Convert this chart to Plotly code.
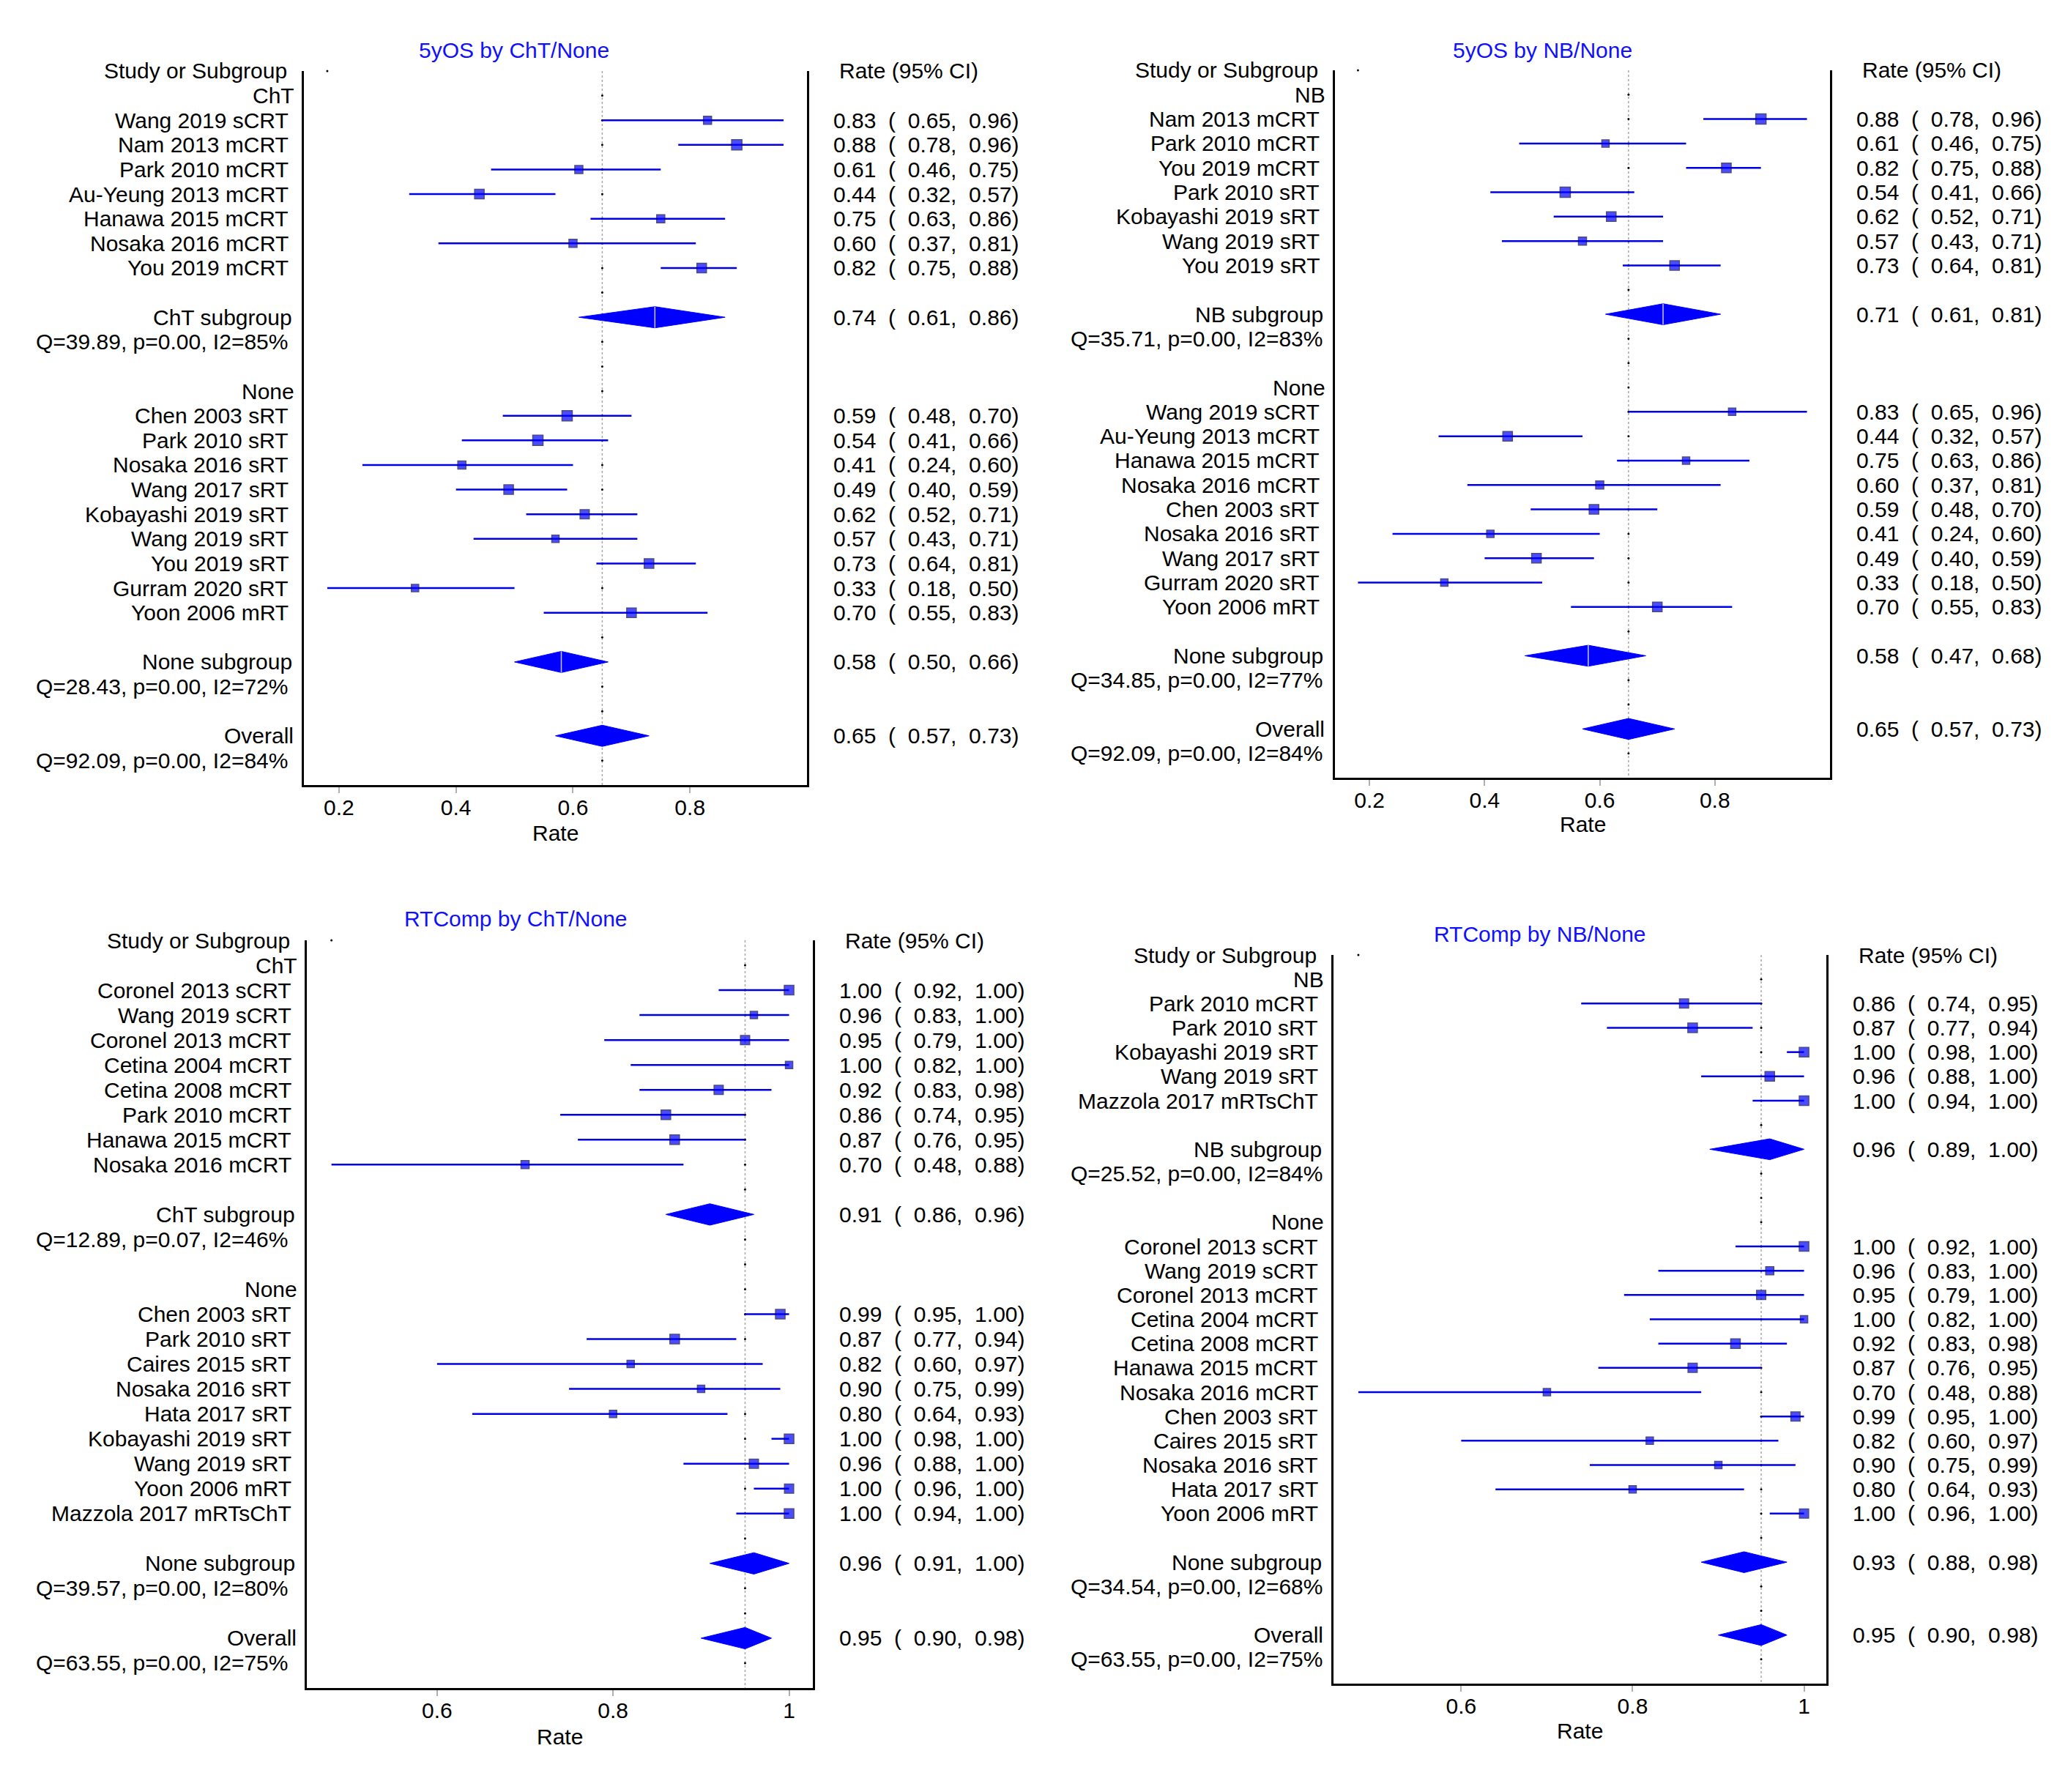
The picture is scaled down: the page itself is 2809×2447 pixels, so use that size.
import plotly.graph_objects as go

W, H = 2809, 2447          # page size
OFF = 8                    # the page body keeps an 8px margin round the figure
FW, FH = W - OFF, H - OFF  # figure size
FONT = "Liberation Sans, Arial, sans-serif"
FS = 30

# ---------------- values ----------------
# 5yOS by ChT/None
os_cht_study = ["Wang 2019 sCRT", "Nam 2013 mCRT", "Park 2010 mCRT", "Au-Yeung 2013 mCRT",
                "Hanawa 2015 mCRT", "Nosaka 2016 mCRT", "You 2019 mCRT",
                "Chen 2003 sRT", "Park 2010 sRT", "Nosaka 2016 sRT", "Wang 2017 sRT",
                "Kobayashi 2019 sRT", "Wang 2019 sRT", "You 2019 sRT", "Gurram 2020 sRT",
                "Yoon 2006 mRT"]
os_cht_group = ["ChT"] * 7 + ["None"] * 9
os_cht_rate = [0.83, 0.88, 0.61, 0.44, 0.75, 0.60, 0.82, 0.59, 0.54, 0.41, 0.49, 0.62, 0.57, 0.73, 0.33, 0.70]
os_cht_lo = [0.65, 0.78, 0.46, 0.32, 0.63, 0.37, 0.75, 0.48, 0.41, 0.24, 0.40, 0.52, 0.43, 0.64, 0.18, 0.55]
os_cht_hi = [0.96, 0.96, 0.75, 0.57, 0.86, 0.81, 0.88, 0.70, 0.66, 0.60, 0.59, 0.71, 0.71, 0.81, 0.50, 0.83]
os_cht_wt = [2, 5, 2, 4, 2, 2, 4, 5, 5, 2, 4, 3.5, 1, 4, 1, 4]
os_cht_sub = ["ChT", "None"]
os_cht_sub_rate = [0.74, 0.58]
os_cht_sub_lo = [0.61, 0.50]
os_cht_sub_hi = [0.86, 0.66]
os_cht_sub_q = ["Q=39.89, p=0.00, I2=85%", "Q=28.43, p=0.00, I2=72%"]
os_cht_all = [0.65, 0.57, 0.73]
os_cht_all_q = "Q=92.09, p=0.00, I2=84%"

# 5yOS by NB/None
os_nb_study = ["Nam 2013 mCRT", "Park 2010 mCRT", "You 2019 mCRT", "Park 2010 sRT",
               "Kobayashi 2019 sRT", "Wang 2019 sRT", "You 2019 sRT",
               "Wang 2019 sCRT", "Au-Yeung 2013 mCRT", "Hanawa 2015 mCRT", "Nosaka 2016 mCRT",
               "Chen 2003 sRT", "Nosaka 2016 sRT", "Wang 2017 sRT", "Gurram 2020 sRT",
               "Yoon 2006 mRT"]
os_nb_group = ["NB"] * 7 + ["None"] * 9
os_nb_rate = [0.88, 0.61, 0.82, 0.54, 0.62, 0.57, 0.73, 0.83, 0.44, 0.75, 0.60, 0.59, 0.41, 0.49, 0.33, 0.70]
os_nb_lo = [0.78, 0.46, 0.75, 0.41, 0.52, 0.43, 0.64, 0.65, 0.32, 0.63, 0.37, 0.48, 0.24, 0.40, 0.18, 0.55]
os_nb_hi = [0.96, 0.75, 0.88, 0.66, 0.71, 0.71, 0.81, 0.96, 0.57, 0.86, 0.81, 0.70, 0.60, 0.59, 0.50, 0.83]
os_nb_wt = [5, 1, 4, 5, 4, 2, 4, 1, 4, 1, 2, 4, 1, 4, 1, 4]
os_nb_sub = ["NB", "None"]
os_nb_sub_rate = [0.71, 0.58]
os_nb_sub_lo = [0.61, 0.47]
os_nb_sub_hi = [0.81, 0.68]
os_nb_sub_q = ["Q=35.71, p=0.00, I2=83%", "Q=34.85, p=0.00, I2=77%"]
os_nb_all = [0.65, 0.57, 0.73]
os_nb_all_q = "Q=92.09, p=0.00, I2=84%"

# RTComp by ChT/None
rt_cht_study = ["Coronel 2013 sCRT", "Wang 2019 sCRT", "Coronel 2013 mCRT", "Cetina 2004 mCRT",
                "Cetina 2008 mCRT", "Park 2010 mCRT", "Hanawa 2015 mCRT", "Nosaka 2016 mCRT",
                "Chen 2003 sRT", "Park 2010 sRT", "Caires 2015 sRT", "Nosaka 2016 sRT",
                "Hata 2017 sRT", "Kobayashi 2019 sRT", "Wang 2019 sRT", "Yoon 2006 mRT",
                "Mazzola 2017 mRTsChT"]
rt_cht_group = ["ChT"] * 8 + ["None"] * 9
rt_cht_rate = [1.00, 0.96, 0.95, 1.00, 0.92, 0.86, 0.87, 0.70, 0.99, 0.87, 0.82, 0.90, 0.80, 1.00, 0.96, 1.00, 1.00]
rt_cht_lo = [0.92, 0.83, 0.79, 0.82, 0.83, 0.74, 0.76, 0.48, 0.95, 0.77, 0.60, 0.75, 0.64, 0.98, 0.88, 0.96, 0.94]
rt_cht_hi = [1.00, 1.00, 1.00, 1.00, 0.98, 0.95, 0.95, 0.88, 1.00, 0.94, 0.97, 0.99, 0.93, 1.00, 1.00, 1.00, 1.00]
rt_cht_wt = [4, 1, 3.5, 1, 3.5, 4, 4, 2, 4, 4, 1, 1, 1, 4, 3.5, 3.5, 4]
rt_cht_sub = ["ChT", "None"]
rt_cht_sub_rate = [0.91, 0.96]
rt_cht_sub_lo = [0.86, 0.91]
rt_cht_sub_hi = [0.96, 1.00]
rt_cht_sub_q = ["Q=12.89, p=0.07, I2=46%", "Q=39.57, p=0.00, I2=80%"]
rt_cht_all = [0.95, 0.90, 0.98]
rt_cht_all_q = "Q=63.55, p=0.00, I2=75%"

# RTComp by NB/None
rt_nb_study = ["Park 2010 mCRT", "Park 2010 sRT", "Kobayashi 2019 sRT", "Wang 2019 sRT",
               "Mazzola 2017 mRTsChT",
               "Coronel 2013 sCRT", "Wang 2019 sCRT", "Coronel 2013 mCRT", "Cetina 2004 mCRT",
               "Cetina 2008 mCRT", "Hanawa 2015 mCRT", "Nosaka 2016 mCRT", "Chen 2003 sRT",
               "Caires 2015 sRT", "Nosaka 2016 sRT", "Hata 2017 sRT", "Yoon 2006 mRT"]
rt_nb_group = ["NB"] * 5 + ["None"] * 12
rt_nb_rate = [0.86, 0.87, 1.00, 0.96, 1.00, 1.00, 0.96, 0.95, 1.00, 0.92, 0.87, 0.70, 0.99, 0.82, 0.90, 0.80, 1.00]
rt_nb_lo = [0.74, 0.77, 0.98, 0.88, 0.94, 0.92, 0.83, 0.79, 0.82, 0.83, 0.76, 0.48, 0.95, 0.60, 0.75, 0.64, 0.96]
rt_nb_hi = [0.95, 0.94, 1.00, 1.00, 1.00, 1.00, 1.00, 1.00, 1.00, 0.98, 0.95, 0.88, 1.00, 0.97, 0.99, 0.93, 1.00]
rt_nb_wt = [3.5, 4, 4, 4, 4, 4, 2, 3.5, 1, 4, 3.5, 1, 3.5, 1, 1, 1, 3.5]
rt_nb_sub = ["NB", "None"]
rt_nb_sub_rate = [0.96, 0.93]
rt_nb_sub_lo = [0.89, 0.88]
rt_nb_sub_hi = [1.00, 0.98]
rt_nb_sub_q = ["Q=25.52, p=0.00, I2=84%", "Q=34.54, p=0.00, I2=68%"]
rt_nb_all = [0.95, 0.90, 0.98]
rt_nb_all_q = "Q=63.55, p=0.00, I2=75%"

os_ticks = [0.2, 0.4, 0.6, 0.8]
os_ticktext = ["0.2", "0.4", "0.6", "0.8"]
rt_ticks = [0.6, 0.8, 1.0]
rt_ticktext = ["0.6", "0.8", "1"]

# ---------------- panel geometry (pixels on the 2809x2447 page) ----------------
panels = [
    dict(title="5yOS by ChT/None", study=os_cht_study, group=os_cht_group, rate=os_cht_rate,
         lo=os_cht_lo, hi=os_cht_hi, wt=os_cht_wt, sub=os_cht_sub, sub_rate=os_cht_sub_rate,
         sub_lo=os_cht_sub_lo, sub_hi=os_cht_sub_hi, sub_q=os_cht_sub_q, all=os_cht_all,
         all_q=os_cht_all_q, ticks=os_ticks, ticktext=os_ticktext, xr=[0.14, 1.0],
         ax=(415, 1102), ay=(97, 1072), tx=702, ty=68, ry=1138, qx=47, mid=True),
    dict(title="5yOS by NB/None", study=os_nb_study, group=os_nb_group, rate=os_nb_rate,
         lo=os_nb_lo, hi=os_nb_hi, wt=os_nb_wt, sub=os_nb_sub, sub_rate=os_nb_sub_rate,
         sub_lo=os_nb_sub_lo, sub_hi=os_nb_sub_hi, sub_q=os_nb_sub_q, all=os_nb_all,
         all_q=os_nb_all_q, ticks=os_ticks, ticktext=os_ticktext, xr=[0.14, 1.0],
         ax=(1823, 2499), ay=(96, 1062), tx=2106, ty=68, ry=1125, qx=1460, mid=True),
    dict(title="RTComp by ChT/None", study=rt_cht_study, group=rt_cht_group, rate=rt_cht_rate,
         lo=rt_cht_lo, hi=rt_cht_hi, wt=rt_cht_wt, sub=rt_cht_sub, sub_rate=rt_cht_sub_rate,
         sub_lo=rt_cht_sub_lo, sub_hi=rt_cht_sub_hi, sub_q=rt_cht_sub_q, all=rt_cht_all,
         all_q=rt_cht_all_q, ticks=rt_ticks, ticktext=rt_ticktext, xr=[0.452, 1.027],
         ax=(419, 1110), ay=(1284, 2305), tx=704, ty=1254, ry=2371, qx=47, mid=False),
    dict(title="RTComp by NB/None", study=rt_nb_study, group=rt_nb_group, rate=rt_nb_rate,
         lo=rt_nb_lo, hi=rt_nb_hi, wt=rt_nb_wt, sub=rt_nb_sub, sub_rate=rt_nb_sub_rate,
         sub_lo=rt_nb_sub_lo, sub_hi=rt_nb_sub_hi, sub_q=rt_nb_sub_q, all=rt_nb_all,
         all_q=rt_nb_all_q, ticks=rt_ticks, ticktext=rt_ticktext, xr=[0.451, 1.026],
         ax=(1821, 2494), ay=(1304, 2299), tx=2103, ty=1276, ry=2363, qx=1460, mid=False),
]

LINE_BLUE = "#0000e6"
BOX_BLUE = "#0000ff"
BOX_EDGE = "#000050"
DIAMOND_BLUE = "#0000ff"
NB = "\u00a0"


def px(x):
    # page x pixel -> paper fraction
    return (x - OFF) / FW


def py(y):
    # page y pixel -> paper fraction (measured from the top)
    return 1 - (y - OFF) / FH


def ci_text(r, lo, hi):
    return f"{r:.2f}{NB*2}({NB*2}{lo:.2f},{NB*2}{hi:.2f})"


fig = go.Figure()
annotations = []
shapes = []

for k, p in enumerate(panels, start=1):
    xa = "x" if k == 1 else f"x{k}"
    ya = "y" if k == 1 else f"y{k}"

    # row layout: header, group, studies, blank, subgroup, Q, blank, ..., overall, Q
    rows = [("head", None)]
    for gi, gname in enumerate(p["sub"]):
        rows.append(("group", gi))
        rows += [("study", i) for i, g in enumerate(p["group"]) if g == gname]
        rows += [("blank", None), ("sub", gi), ("q", gi), ("blank", None)]
    rows += [("all", None), ("allq", None)]
    n = len(rows)

    x0, x1 = p["ax"]
    y0, y1 = p["ay"]
    right_col = px(x1 + 34)

    # reference line at the overall estimate
    shapes.append(dict(type="line", xref=xa, yref=ya, x0=p["all"][0], x1=p["all"][0], y0=0, y1=n,
                       line=dict(color="#a8a8a8", width=1.5, dash="dot"), layer="below"))
    fig.add_trace(go.Scatter(x=[p["all"][0]] * (n - 1), y=list(range(1, n)), mode="markers",
                             marker=dict(color="black", size=3), xaxis=xa, yaxis=ya,
                             showlegend=False, hoverinfo="skip"))
    fig.add_trace(go.Scatter(x=[min(p["lo"])], y=[0], mode="markers",
                             marker=dict(color="black", size=3), xaxis=xa, yaxis=ya,
                             showlegend=False, hoverinfo="skip", cliponaxis=False))

    lx, ly, mx, my, ms = [], [], [], [], []
    for r, (kind, i) in enumerate(rows):
        if kind == "head":
            annotations.append(dict(text="Study or Subgroup", x=px(x0 - 21), xanchor="right"))
            annotations.append(dict(text="Rate (95% CI)", x=px(x1 + 42), xanchor="left"))
        elif kind == "group":
            annotations.append(dict(text=p["sub"][i], x=px(x0 - 11), xanchor="right"))
        elif kind == "study":
            annotations.append(dict(text=p["study"][i], x=px(x0 - 19), xanchor="right"))
            annotations.append(dict(text=ci_text(p["rate"][i], p["lo"][i], p["hi"][i]),
                                    x=right_col, xanchor="left"))
            lx += [p["lo"][i], p["hi"][i], None]
            ly += [r, r, None]
            mx.append(p["rate"][i])
            my.append(r)
            ms.append(9 + p["wt"][i])
        elif kind in ("sub", "all"):
            if kind == "sub":
                est, lo, hi = p["sub_rate"][i], p["sub_lo"][i], p["sub_hi"][i]
                annotations.append(dict(text=f"{p['sub'][i]} subgroup", x=px(x0 - 14),
                                        xanchor="right"))
            else:
                est, lo, hi = p["all"]
                annotations.append(dict(text="Overall", x=px(x0 - 12), xanchor="right"))
            annotations.append(dict(text=ci_text(est, lo, hi), x=right_col, xanchor="left"))
            h = 0.43
            fig.add_trace(go.Scatter(x=[lo, est, hi, est, lo], y=[r, r - h, r, r + h, r],
                                     mode="lines", fill="toself", fillcolor=DIAMOND_BLUE,
                                     line=dict(color=DIAMOND_BLUE, width=1), xaxis=xa, yaxis=ya,
                                     showlegend=False, hoverinfo="skip"))
            if kind == "sub" and p["mid"]:
                fig.add_trace(go.Scatter(x=[est, est], y=[r - h, r + h], mode="lines",
                                         line=dict(color="#c8c8ff", width=1.5), xaxis=xa, yaxis=ya,
                                         showlegend=False, hoverinfo="skip"))
        elif kind == "q":
            annotations.append(dict(text=p["sub_q"][i], x=px(p["qx"]), xanchor="left"))
        elif kind == "allq":
            annotations.append(dict(text=p["all_q"], x=px(p["qx"]), xanchor="left"))
        for a in annotations:
            if "y" not in a:
                a.update(y=r, xref="paper", yref=ya)

    fig.add_trace(go.Scatter(x=lx, y=ly, mode="lines", line=dict(color=LINE_BLUE, width=2.5),
                             xaxis=xa, yaxis=ya, showlegend=False, hoverinfo="skip"))
    fig.add_trace(go.Scatter(x=mx, y=my, mode="markers",
                             marker=dict(symbol="square", size=ms, color=BOX_BLUE,
                                         line=dict(color=BOX_EDGE, width=1.5)),
                             xaxis=xa, yaxis=ya, showlegend=False, hoverinfo="skip",
                             cliponaxis=False))

    # panel title and axis title
    annotations.append(dict(text=p["title"], x=px(p["tx"]), y=py(p["ty"]), xref="paper",
                            yref="paper", xanchor="center", font=dict(color="#1010ff")))
    annotations.append(dict(text="Rate", x=px((x0 + x1) / 2), y=py(p["ry"]), xref="paper",
                            yref="paper", xanchor="center"))

    fig.update_layout(**{
        ("xaxis" if k == 1 else f"xaxis{k}"): dict(
            domain=[px(x0), px(x1)], range=p["xr"], anchor=ya, showline=True,
            linecolor="black", linewidth=3, ticks="outside", ticklen=8, tickwidth=1.5,
            tickcolor="#b0b0b0", tickvals=p["ticks"], ticktext=p["ticktext"],
            tickfont=dict(size=FS, color="black"), ticklabelstandoff=-6,
            showgrid=False, zeroline=False, fixedrange=True),
        ("yaxis" if k == 1 else f"yaxis{k}"): dict(
            domain=[py(y1), py(y0)], range=[n, 0], anchor=xa, showline=True,
            mirror=True, linecolor="black", linewidth=3, showticklabels=False, ticks="",
            showgrid=False, zeroline=False, fixedrange=True),
    })

for a in annotations:
    a.setdefault("showarrow", False)
    a.setdefault("yanchor", "middle")
    f = a.setdefault("font", {})
    f.setdefault("size", FS)
    f.setdefault("color", "black")
    f.setdefault("family", FONT)

fig.update_layout(
    width=FW, height=FH, margin=dict(l=0, r=0, t=0, b=0),
    paper_bgcolor="white", plot_bgcolor="white",
    font=dict(family=FONT, size=FS, color="black"),
    annotations=annotations, shapes=shapes, showlegend=False,
)

fig.write_html("out.html")
